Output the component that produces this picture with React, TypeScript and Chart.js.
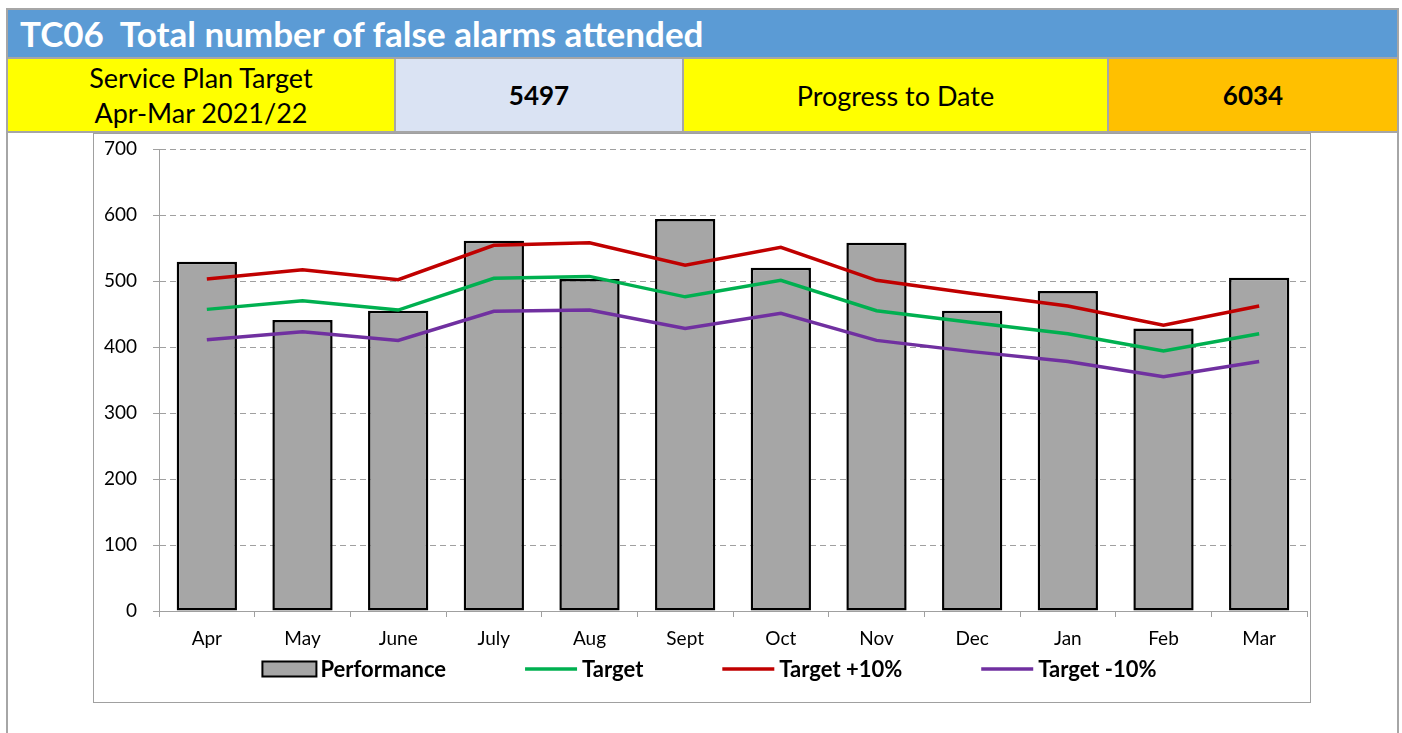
import React, { useEffect, useRef } from "react";
import { Chart, registerables } from "chart.js";

Chart.register(...registerables);

const categories = ["Apr", "May", "June", "July", "Aug", "Sept", "Oct", "Nov", "Dec", "Jan", "Feb", "Mar"];
const performance = [529, 441, 455, 561, 503, 594, 520, 558, 455, 485, 428, 505];
const target = [457, 470, 456, 504, 507, 476, 501, 455, 437, 420, 394, 420];
const targetPlus10 = [503, 517, 502, 554, 558, 524, 551, 501, 481, 462, 433, 462];
const targetMinus10 = [411, 423, 410, 454, 456, 428, 451, 410, 393, 378, 355, 378];
const yMin = 0;
const yMax = 700;
const yStep = 100;

const title = "TC06  Total number of false alarms attended";
const targetLabel1 = "Service Plan Target";
const targetLabel2 = "Apr-Mar 2021/22";
const targetValue = "5497";
const progressLabel = "Progress to Date";
const progressValue = "6034";

const FONT = "Lato, 'Open Sans', sans-serif";

const legendPlugin = {
  id: "customLegend",
  afterDraw(chart: any) {
    const ctx = chart.ctx;
    ctx.save();
    ctx.font = `bold 22px ${FONT}`;
    const boxW = 56;
    const gap = 3;
    const spacing = 77;
    const items = chart.data.datasets.map((ds: any) => ({
      text: ds.label,
      isBar: ds.type === "bar",
      fill: ds.backgroundColor,
      stroke: ds.borderColor,
    }));
    const widths = items.map((it: any) => boxW + gap + ctx.measureText(it.text).width);
    const total = widths.reduce((a: number, b: number) => a + b, 0) + spacing * (items.length - 1);
    let x = chart.width / 2 - total / 2 + 7;
    const y = 535;
    items.forEach((it: any, i: number) => {
      if (it.isBar) {
        ctx.fillStyle = it.fill;
        ctx.fillRect(x + 1, y - 7.5, boxW - 2, 15);
        ctx.strokeStyle = it.stroke;
        ctx.lineWidth = 2;
        ctx.strokeRect(x + 1, y - 7.5, boxW - 2, 15);
      } else {
        ctx.strokeStyle = it.stroke;
        ctx.lineWidth = 3.5;
        ctx.beginPath();
        ctx.moveTo(x + 2, y);
        ctx.lineTo(x + boxW - 2, y);
        ctx.stroke();
      }
      ctx.fillStyle = "#000";
      ctx.textAlign = "left";
      ctx.textBaseline = "middle";
      ctx.fillText(it.text, x + boxW + gap, y + 1);
      x += widths[i] + spacing;
    });
    ctx.restore();
  },
};

function ChartBox() {
  const ref = useRef<HTMLCanvasElement>(null);
  useEffect(() => {
    if (!ref.current) return;
    const chart = new Chart(ref.current, {
      type: "bar",
      data: {
        labels: categories,
        datasets: [
          {
            type: "bar",
            label: "Performance",
            data: performance,
            backgroundColor: "#a6a6a6",
            borderColor: "#000000",
            borderWidth: 2.5,
            borderSkipped: false,
            barPercentage: 0.63,
            categoryPercentage: 1,
            order: 2,
          } as any,
          {
            type: "line",
            label: "Target",
            data: target,
            borderColor: "#00b050",
            backgroundColor: "#00b050",
            borderWidth: 3.5,
            pointRadius: 0,
            tension: 0,
            order: 1,
          },
          {
            type: "line",
            label: "Target +10%",
            data: targetPlus10,
            borderColor: "#c00000",
            backgroundColor: "#c00000",
            borderWidth: 3.5,
            pointRadius: 0,
            tension: 0,
            order: 1,
          },
          {
            type: "line",
            label: "Target -10%",
            data: targetMinus10,
            borderColor: "#7030a0",
            backgroundColor: "#7030a0",
            borderWidth: 3.5,
            pointRadius: 0,
            tension: 0,
            order: 1,
          },
        ],
      },
      options: {
        responsive: false,
        animation: false,
        layout: { padding: { top: 15, right: 3, bottom: 45, left: 0 } },
        plugins: {
          legend: { display: false },
          tooltip: { enabled: false },
        },
        scales: {
          x: {
            offset: true,
            grid: {
              display: true,
              drawOnChartArea: false,
              drawTicks: true,
              tickLength: 6,
              color: "#a0a0a0",
            },
            border: { display: true, color: "#a0a0a0", width: 1 },
            ticks: {
              color: "#000",
              font: { family: FONT, size: 19 },
              padding: 10,
              maxRotation: 0,
            },
            afterFit(scale: any) {
              scale.height = 46;
            },
          },
          y: {
            min: yMin,
            max: yMax,
            grid: {
              color: "#a0a0a0",
              lineWidth: 1,
              tickLength: 6,
            },
            border: { display: true, color: "#a0a0a0", width: 1, dash: [6, 4] },
            ticks: {
              stepSize: yStep,
              color: "#000",
              font: { family: FONT, size: 19 },
              padding: 16,
            },
            afterFit(scale: any) {
              scale.width = 65;
              scale.paddingTop = 0;
              scale.paddingBottom = 0;
            },
          },
        },
      },
      plugins: [legendPlugin],
    } as any);
    return () => chart.destroy();
  }, []);
  return <canvas ref={ref} width={1216} height={568} style={{ display: "block", width: 1216, height: 568 }} />;
}

const cellBase: React.CSSProperties = {
  position: "absolute",
  top: 59,
  height: 72,
  display: "flex",
  alignItems: "center",
  justifyContent: "center",
  textAlign: "center",
  color: "#000",
  fontSize: 27,
  lineHeight: "35px",
};

export default function App() {
  return (
    <div
      style={{
        position: "absolute",
        left: 0,
        top: 0,
        width: 1402,
        height: 733,
        background: "#fff",
        overflow: "hidden",
        fontFamily: FONT,
      }}
    >
      <div style={{ position: "absolute", left: 6, top: 8, width: 1393, height: 125, background: "#a6a6a6" }} />
      <div style={{ position: "absolute", left: 6, top: 133, width: 2, height: 600, background: "#a6a6a6" }} />
      <div style={{ position: "absolute", left: 1397, top: 133, width: 2, height: 600, background: "#a6a6a6" }} />
      <div
        style={{
          position: "absolute",
          left: 8,
          top: 10,
          width: 1389,
          height: 47,
          background: "#5b9bd5",
          color: "#fff",
          fontWeight: 700,
          fontSize: 35,
          lineHeight: "47px",
          paddingLeft: 12,
          boxSizing: "border-box",
          whiteSpace: "pre",
        }}
      >
        {title}
      </div>
      <div style={{ ...cellBase, left: 8, width: 386, background: "#ffff00" }}>
        <div>
          {targetLabel1}
          <br />
          {targetLabel2}
        </div>
      </div>
      <div style={{ ...cellBase, left: 396, width: 286, background: "#dae3f3", fontWeight: 700, fontSize: 26 }}>
        {targetValue}
      </div>
      <div style={{ ...cellBase, left: 684, width: 423, background: "#ffff00" }}>{progressLabel}</div>
      <div style={{ ...cellBase, left: 1109, width: 288, background: "#ffc000", fontWeight: 700, fontSize: 26 }}>
        {progressValue}
      </div>
      <div
        style={{
          position: "absolute",
          left: 93,
          top: 133,
          width: 1216,
          height: 568,
          border: "1px solid #a0a0a0",
          background: "#fff",
        }}
      >
        <ChartBox />
      </div>
    </div>
  );
}
